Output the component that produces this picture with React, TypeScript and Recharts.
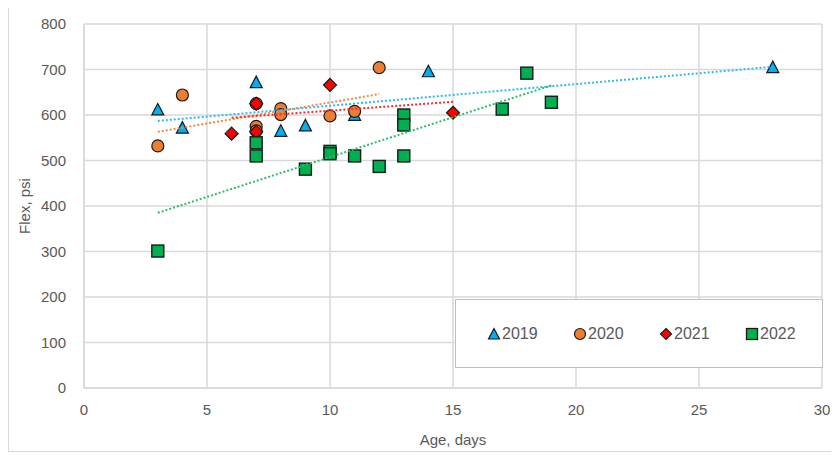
import React from "react";
import { ScatterChart, Scatter, XAxis, YAxis, CartesianGrid } from "recharts";

const days2019 = [3, 4, 7, 8, 9, 11, 14, 28];
const flex2019 = [610, 570, 670, 563, 575, 598, 694, 703];
const days2020 = [3, 4, 7, 7, 7, 8, 8, 10, 11, 12];
const flex2020 = [532, 644, 625, 575, 565, 614, 601, 598, 608, 704];
const days2021 = [6, 7, 7, 10, 15];
const flex2021 = [559, 625, 563, 666, 605];
const days2022 = [3, 7, 7, 9, 10, 10, 11, 12, 13, 13, 13, 17, 18, 19];
const flex2022 = [301, 539, 510, 481, 520, 515, 510, 487, 600, 578, 510, 613, 692, 628];

const trendDays2019 = [3, 28];
const trendFlex2019 = [587, 706];
const trendDays2020 = [3, 12];
const trendFlex2020 = [563, 646];
const trendDays2021 = [6, 15];
const trendFlex2021 = [594, 629];
const trendDays2022 = [3, 19];
const trendFlex2022 = [385, 665];

const xTicks = [0, 5, 10, 15, 20, 25, 30];
const yTicks = [0, 100, 200, 300, 400, 500, 600, 700, 800];
const seriesNames = ["2019", "2020", "2021", "2022"];

const toPts = (xs: number[], ys: number[]) => xs.map((x, i) => ({ x, y: ys[i] }));

const C_BLUE = "#00B0F0";
const C_ORANGE = "#ED7D31";
const C_RED = "#FF0000";
const C_GREEN = "#00B050";
const EDGE = "#1a1a1a";
const FONT = "'Liberation Sans', Arial, sans-serif";
const TXT = "#595959";

const Tri = (p: any) => {
  const { cx, cy } = p;
  if (cx == null || cy == null) return <g />;
  return (
    <polygon
      points={`${cx},${cy - 7} ${cx - 6},${cy + 4.5} ${cx + 6},${cy + 4.5}`}
      fill={C_BLUE}
      stroke={EDGE}
      strokeWidth={1.2}
      strokeLinejoin="miter"
    />
  );
};
const Circ = (p: any) => {
  const { cx, cy } = p;
  if (cx == null || cy == null) return <g />;
  return <circle cx={cx} cy={cy} r={6} fill={C_ORANGE} stroke={EDGE} strokeWidth={1.2} />;
};
const Diam = (p: any) => {
  const { cx, cy } = p;
  if (cx == null || cy == null) return <g />;
  return (
    <polygon
      points={`${cx},${cy - 6.5} ${cx + 6.5},${cy} ${cx},${cy + 6.5} ${cx - 6.5},${cy}`}
      fill={C_RED}
      stroke={EDGE}
      strokeWidth={1.2}
    />
  );
};
const Sq = (p: any) => {
  const { cx, cy } = p;
  if (cx == null || cy == null) return <g />;
  return (
    <rect x={cx - 6} y={cy - 6} width={12} height={12} fill={C_GREEN} stroke={EDGE} strokeWidth={1.4} />
  );
};
const NoShape = () => <g />;

const legendIcon = (name: string) => {
  if (name === "2019")
    return (
      <svg width={14} height={14}>
        <polygon points="7,1.5 1.5,12 12.5,12" fill={C_BLUE} stroke={EDGE} strokeWidth={1.2} />
      </svg>
    );
  if (name === "2020")
    return (
      <svg width={14} height={14}>
        <circle cx={7} cy={7} r={5.5} fill={C_ORANGE} stroke={EDGE} strokeWidth={1.2} />
      </svg>
    );
  if (name === "2021")
    return (
      <svg width={14} height={14}>
        <polygon points="7,1.5 12.5,7 7,12.5 1.5,7" fill={C_RED} stroke={EDGE} strokeWidth={1.2} />
      </svg>
    );
  return (
    <svg width={14} height={14}>
      <rect x={1.5} y={1.5} width={11} height={11} fill={C_GREEN} stroke={EDGE} strokeWidth={1.3} />
    </svg>
  );
};

const trendLine = (color: string) => ({
  stroke: color,
  strokeWidth: 2,
  strokeDasharray: "2 2",
});

export default function App() {
  return (
    <div style={{ position: "relative", width: 831, height: 447, fontFamily: FONT }}>
      <div
        style={{
          position: "absolute",
          left: 0,
          top: -1,
          width: 831,
          height: 445,
          border: "1px solid #d9d9d9",
          boxSizing: "border-box",
        }}
      />
      <ScatterChart
        width={831}
        height={447}
        margin={{ top: 16, right: 17, bottom: 37, left: 16 }}
        style={{ position: "absolute", left: 0, top: 0 }}
      >
        <CartesianGrid stroke="#d9d9d9" strokeWidth={1.5} />
        <XAxis
          type="number"
          dataKey="x"
          domain={[0, 30]}
          ticks={xTicks}
          interval={0}
          allowDataOverflow
          axisLine={{ stroke: "#d9d9d9", strokeWidth: 1.5 }}
          tickLine={false}
          tick={{ fill: TXT, fontSize: 15, fontFamily: FONT }}
          tickMargin={10}
          height={30}
          label={{
            value: "Age, days",
            position: "insideBottom",
            offset: -27,
            fill: TXT,
            fontSize: 15,
            fontFamily: FONT,
          }}
        />
        <YAxis
          type="number"
          dataKey="y"
          domain={[0, 800]}
          ticks={yTicks}
          interval={0}
          allowDataOverflow
          axisLine={{ stroke: "#d9d9d9", strokeWidth: 1.5 }}
          tickLine={false}
          tick={{ fill: TXT, fontSize: 15, fontFamily: FONT }}
          tickMargin={12}
          width={60}
          label={{
            value: "Flex, psi",
            angle: -90,
            position: "insideLeft",
            offset: 1,
            fill: TXT,
            fontSize: 15,
            fontFamily: FONT,
            style: { textAnchor: "middle" },
          }}
        />
        <Scatter name="2019" data={toPts(days2019, flex2019)} shape={Tri} isAnimationActive={false} />
        <Scatter name="2020" data={toPts(days2020, flex2020)} shape={Circ} isAnimationActive={false} />
        <Scatter name="2021" data={toPts(days2021, flex2021)} shape={Diam} isAnimationActive={false} />
        <Scatter name="2022" data={toPts(days2022, flex2022)} shape={Sq} isAnimationActive={false} />
        <Scatter
          name="trend2019"
          data={toPts(trendDays2019, trendFlex2019)}
          line={trendLine("#2EBBEF")}
          shape={NoShape}
          isAnimationActive={false}
        />
        <Scatter
          name="trend2020"
          data={toPts(trendDays2020, trendFlex2020)}
          line={trendLine("#F08A45")}
          shape={NoShape}
          isAnimationActive={false}
        />
        <Scatter
          name="trend2021"
          data={toPts(trendDays2021, trendFlex2021)}
          line={trendLine("#FF2A2A")}
          shape={NoShape}
          isAnimationActive={false}
        />
        <Scatter
          name="trend2022"
          data={toPts(trendDays2022, trendFlex2022)}
          line={trendLine("#2DBE6C")}
          shape={NoShape}
          isAnimationActive={false}
        />
      </ScatterChart>
      <div
        style={{
          position: "absolute",
          left: 447,
          top: 291,
          width: 368,
          height: 69,
          border: "1px solid #bfbfbf",
          boxSizing: "border-box",
          background: "#ffffff",
        }}
      >
        {seriesNames.map((n, i) => (
          <div
            key={n}
            style={{
              position: "absolute",
              left: 31 + i * 86,
              top: 25,
              display: "flex",
              alignItems: "center",
              color: TXT,
              fontSize: 16,
              lineHeight: "18px",
            }}
          >
            {legendIcon(n)}
            <span style={{ marginLeft: 1 }}>{n}</span>
          </div>
        ))}
      </div>
    </div>
  );
}
